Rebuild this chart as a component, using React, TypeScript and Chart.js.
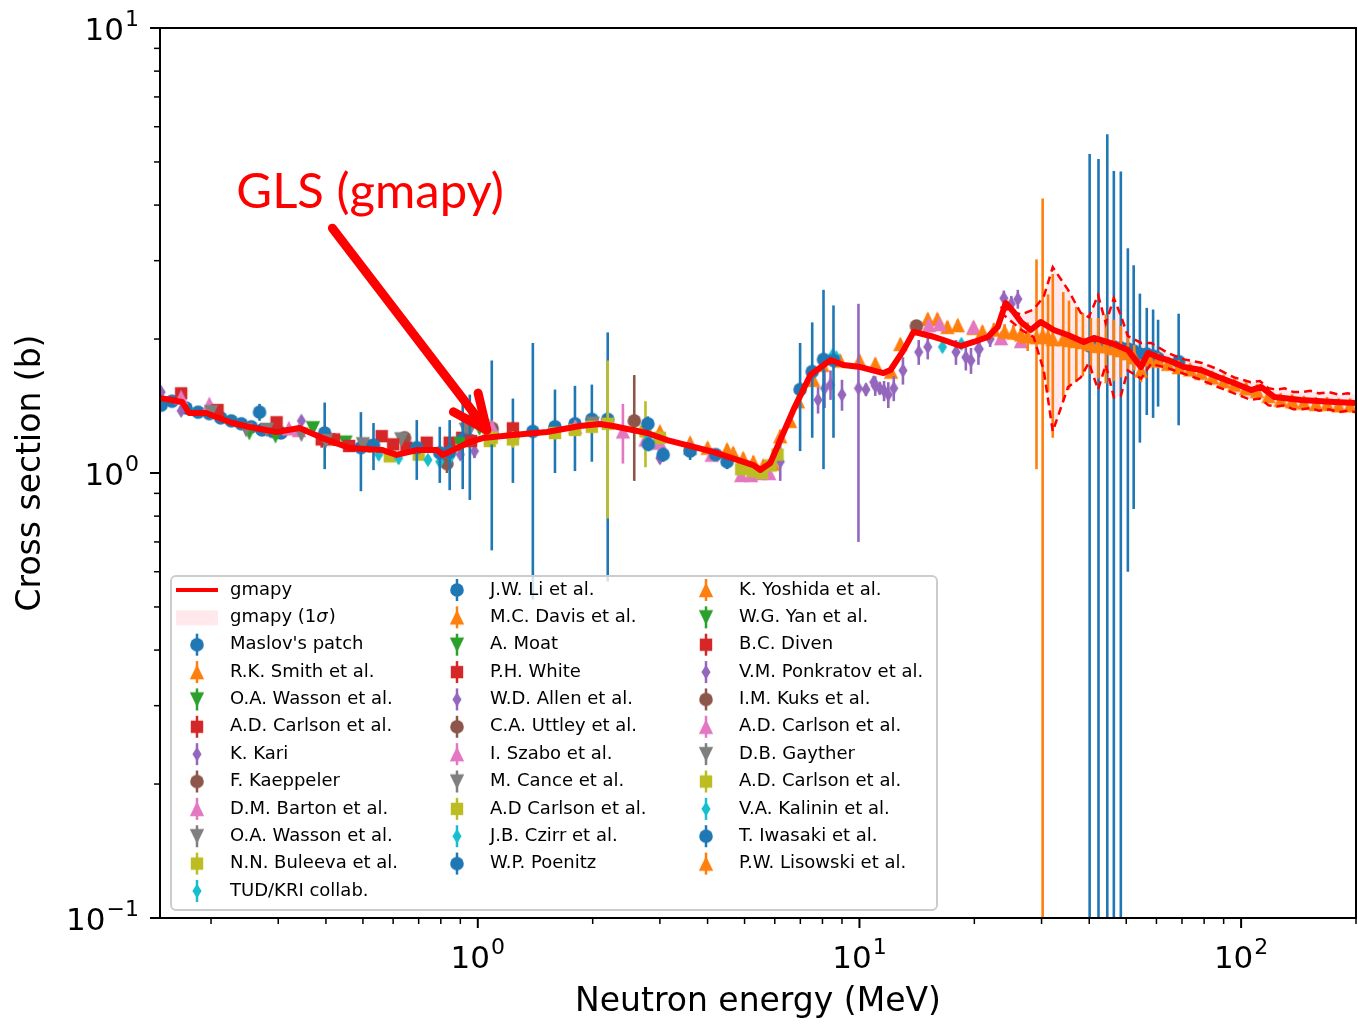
import React, { useEffect, useRef } from 'react';
import { Chart, registerables } from 'chart.js';

Chart.register(...registerables);

// ---------------- data ----------------
const gmapyEnergy = [0.147, 0.168, 0.175, 0.194, 0.2275, 0.252, 0.297, 0.341, 0.392, 0.461, 0.563, 0.613, 0.692, 0.781, 0.809, 0.953, 1.031, 1.236, 1.517, 1.852, 2.09, 2.261, 2.777, 3.134, 4.139, 5.27, 5.498, 5.84, 6.318, 6.712, 7.437, 8.392, 9.078, 10.06, 11.56, 12.06, 13.05, 13.86, 15.37, 16.61, 18.41, 19.92, 21.68, 23.03, 24.17, 25.37, 26.5, 28.11, 29.87, 32.3, 35.16, 38.71, 41.14, 45.6, 50.52, 54.65, 57.01, 60.55, 64.33, 70.86, 78.52, 87.0, 95.85, 106.2, 112.8, 122.1, 143.7, 175.4, 200];
const gmapyXS = [1.474, 1.444, 1.364, 1.364, 1.295, 1.269, 1.236, 1.262, 1.198, 1.138, 1.126, 1.098, 1.126, 1.126, 1.098, 1.174, 1.198, 1.217, 1.236, 1.275, 1.289, 1.275, 1.23, 1.186, 1.115, 1.042, 1.016, 1.053, 1.23, 1.385, 1.661, 1.794, 1.748, 1.73, 1.677, 1.704, 1.889, 2.075, 2.032, 1.99, 1.929, 1.97, 2.021, 2.129, 2.41, 2.3, 2.185, 2.096, 2.185, 2.096, 2.042, 1.97, 2.011, 1.959, 1.889, 1.73, 1.86, 1.822, 1.794, 1.73, 1.704, 1.643, 1.593, 1.536, 1.561, 1.482, 1.459, 1.444, 1.437];

const bandEnergy = [23.4, 26.5, 28.6, 30.4, 32.1, 35.2, 38.0, 39.9, 42.2, 44.2, 46.4, 48.4, 50.5, 54.7, 58.1, 64.3, 70.9, 78.5, 87.0, 95.9, 106, 112, 118, 124, 130, 137, 144, 152, 160, 170, 180, 190, 200];
const bandUpper = [2.36, 2.27, 2.33, 2.49, 2.9, 2.58, 2.29, 2.24, 2.51, 2.17, 2.47, 2.26, 2.03, 1.96, 1.96, 1.86, 1.8, 1.77, 1.71, 1.64, 1.6, 1.61, 1.55, 1.54, 1.55, 1.52, 1.52, 1.53, 1.51, 1.52, 1.5, 1.51, 1.5];
const bandLower = [2.3, 2.1, 2.02, 1.7, 1.24, 1.56, 1.64, 1.77, 1.54, 1.75, 1.48, 1.49, 1.7, 1.63, 1.76, 1.72, 1.67, 1.62, 1.56, 1.51, 1.46, 1.47, 1.42, 1.41, 1.42, 1.39, 1.39, 1.4, 1.38, 1.39, 1.37, 1.38, 1.37];

// each experiment: [energy (MeV), cross section (b), uncertainty (b)]
const maslovPatch = [[0.148, 1.42, 0.03], [0.158, 1.45, 0.03], [0.172, 1.4, 0.03], [0.185, 1.37, 0.03], [0.198, 1.36, 0.03], [0.212, 1.33, 0.03], [0.226, 1.31, 0.03], [0.24, 1.29, 0.03], [0.255, 1.27, 0.03], [0.268, 1.37, 0.06], [0.272, 1.25, 0.03], [0.29, 1.24, 0.03], [0.305, 1.23, 0.03]];
const smith = [[3.0, 1.24, 0.03], [3.6, 1.17, 0.03], [4.0, 1.14, 0.03], [4.5, 1.13, 0.03], [4.67, 1.11, 0.03], [4.96, 1.08, 0.03], [5.27, 1.06, 0.03], [5.6, 1.04, 0.03], [5.94, 1.05, 0.03], [6.2, 1.21, 0.04], [6.58, 1.31, 0.04]];
const wassonA = [[0.252, 1.23, 0.02], [0.295, 1.21, 0.02], [0.37, 1.26, 0.02], [0.45, 1.17, 0.02]];
const carlsonA = [[0.167, 1.51, 0.03], [0.297, 1.3, 0.03], [0.39, 1.19, 0.05], [0.56, 1.21, 0.03], [0.735, 1.17, 0.03], [0.91, 1.2, 0.03], [1.075, 1.24, 0.04]];
const kari = [[0.148, 1.52, 0.03], [0.167, 1.38, 0.03], [0.345, 1.31, 0.03], [0.9, 1.1, 0.03], [0.98, 1.12, 0.04], [3.0, 1.08, 0.03], [10.4, 1.54, 0.05], [10.9, 1.6, 0.05], [11.3, 1.55, 0.05]];
const kaeppeler = [[0.643, 1.2, 0.03], [0.83, 1.05, 0.05], [1.09, 1.26, 0.03]];
const barton = [[0.167, 1.48, 0.03], [0.198, 1.43, 0.03], [0.32, 1.26, 0.03], [0.34, 1.25, 0.03]];
const wassonB = [[0.247, 1.25, 0.02], [0.345, 1.22, 0.03], [0.953, 1.25, 0.03]];
const buleeva = [[0.588, 1.09, 0.03], [0.7, 1.1, 0.03], [1.075, 1.18, 0.03]];
const tudKri = [[0.74, 1.07, 0.02], [0.795, 1.06, 0.02], [0.85, 1.09, 0.02]];
const li = [[1.088, 1.23, 0.56], [1.236, 1.21, 0.26], [1.394, 1.24, 0.72], [1.593, 1.27, 0.27], [1.797, 1.29, 0.28], [1.99, 1.32, 0.26], [2.19, 1.32, 0.75]];
const davis = [[6.9, 1.45, 0.04], [7.57, 1.62, 0.04], [8.0, 1.75, 0.05], [8.9, 1.79, 0.05], [10.0, 1.79, 0.05], [11.0, 1.76, 0.05], [12.1, 1.69, 0.05]];
const moat = [[1.01, 1.26, 0.03]];
const white = [[0.208, 1.385, 0.03], [0.46, 1.15, 0.03], [0.65, 1.14, 0.02], [0.844, 1.17, 0.03], [1.236, 1.26, 0.04]];
const allen = [[20.6, 1.9, 0.08], [22.0, 2.0, 0.08], [23.9, 2.47, 0.1], [25.0, 2.4, 0.1], [26.0, 2.46, 0.12]];
const uttley = [[0.52, 1.15, 0.03], [2.57, 1.31, 0.35]];
const szabo = [[1.09, 1.27, 0.03], [1.8, 1.27, 0.04], [2.4, 1.24, 0.19], [2.75, 1.19, 0.05], [3.0, 1.17, 0.04], [3.6, 1.14, 0.03], [4.1, 1.1, 0.03]];
const cance = [[0.63, 1.19, 0.03], [0.93, 1.25, 0.03], [2.0, 1.29, 0.03]];
const carlsonB = [[1.088, 1.2, 0.04], [1.236, 1.19, 0.05], [1.593, 1.23, 0.04], [1.797, 1.25, 0.04], [1.99, 1.27, 0.04], [2.19, 1.29, 0.5], [2.75, 1.24, 0.21], [3.0, 1.2, 0.04]];
const czirr = [[0.55, 1.1, 0.03], [0.62, 1.08, 0.03], [2.8, 1.21, 0.03]];
const poenitz = [[0.397, 1.23, 0.21], [0.494, 1.14, 0.23], [0.533, 1.155, 0.14], [0.692, 1.14, 0.175], [0.795, 1.11, 0.16], [0.844, 1.115, 0.2], [0.913, 1.19, 0.27], [0.953, 1.185, 0.315], [2.79, 1.29, 0.05], [2.8, 1.16, 0.04], [3.06, 1.1, 0.04], [3.6, 1.12, 0.05], [4.2, 1.1, 0.03], [4.5, 1.06, 0.04]];
const yoshida = [[12.8, 1.95, 0.05], [14.1, 2.12, 0.06], [15.1, 2.22, 0.06], [16.0, 2.22, 0.06], [17.0, 2.13, 0.06], [18.1, 2.15, 0.06], [19.9, 2.12, 0.06]];
const yan = [[0.9, 1.16, 0.03], [1.03, 1.27, 0.03]];
const diven = [[0.42, 1.19, 0.04], [0.6, 1.16, 0.03], [0.96, 1.18, 0.03]];
const ponkratov = [[6.2, 1.06, 0.1], [7.79, 1.46, 0.1], [8.1, 1.55, 0.15], [8.4, 1.58, 0.12], [9.0, 1.5, 0.12], [9.94, 1.55, 0.85], [11.0, 1.57, 0.08], [11.6, 1.53, 0.08], [11.9, 1.5, 0.1], [12.3, 1.55, 0.1], [13.0, 1.7, 0.12], [14.3, 1.87, 0.12], [15.1, 1.92, 0.12], [17.9, 1.87, 0.12], [19.0, 1.82, 0.12], [19.6, 1.79, 0.12], [20.5, 1.9, 0.15]];
const kuks = [[14.1, 2.14, 0.05]];
const carlsonC = [[4.9, 0.99, 0.02], [5.2, 0.99, 0.02], [5.5, 1.0, 0.02], [5.8, 1.0, 0.02], [15.2, 2.15, 0.05], [16.2, 2.16, 0.05], [19.9, 2.13, 0.05], [23.5, 2.01, 0.05], [26.5, 1.98, 0.05]];
const gayther = [[0.2, 1.37, 0.03], [0.28, 1.25, 0.03], [0.4, 1.18, 0.03], [0.5, 1.16, 0.03]];
const carlsonD = [[4.9, 1.02, 0.02], [5.25, 1.01, 0.02], [5.55, 1.0, 0.02], [5.85, 1.04, 0.02], [6.1, 1.1, 0.03]];
const kalinin = [[8.5, 1.84, 0.04], [8.7, 1.82, 0.04], [16.5, 1.92, 0.05], [18.5, 1.95, 0.05]];
const iwasaki = [[6.99, 1.54, 0.42], [7.52, 1.69, 0.49], [8.05, 1.8, 0.78], [8.55, 1.79, 0.59], [40.1, 1.93, 3.28], [42.3, 1.93, 3.15], [44.6, 1.92, 3.85], [46.4, 1.92, 2.85], [48.4, 1.91, 2.85], [50.5, 1.9, 1.3], [52.3, 1.88, 1.05], [54.3, 1.85, 0.68], [56.6, 1.85, 0.5], [58.8, 1.83, 0.5], [60.6, 1.81, 0.4], [68.6, 1.78, 0.5]];
const lisowski = [[21.0, 2.08, 0.06], [22.5, 2.1, 0.07], [24.0, 2.08, 0.08], [25.3, 2.07, 0.08], [26.5, 2.05, 0.1], [27.6, 2.03, 0.15], [29.1, 2.02, 1.0], [30.2, 2.04, 2.1], [31.2, 2.02, 0.5], [32.1, 2.0, 0.8], [34.2, 2.0, 0.55], [35.4, 1.99, 0.45], [37.0, 1.98, 0.38], [38.5, 1.97, 0.32], [40.4, 1.95, 0.28], [42.2, 1.93, 0.3], [44.2, 1.93, 0.34], [46.4, 1.91, 0.3], [48.4, 1.89, 0.25], [50.5, 1.86, 0.16], [52.5, 1.82, 0.12], [54.7, 1.7, 0.1], [57.5, 1.8, 0.08], [60.6, 1.79, 0.07], [64.3, 1.76, 0.06], [68.6, 1.73, 0.06], [73.5, 1.71, 0.05], [78.5, 1.68, 0.05], [84, 1.64, 0.05], [90, 1.61, 0.05], [96, 1.58, 0.05], [103, 1.55, 0.05], [110, 1.53, 0.05], [118, 1.49, 0.05], [127, 1.46, 0.05], [136, 1.45, 0.05], [146, 1.44, 0.05], [157, 1.43, 0.05], [168, 1.43, 0.05], [180, 1.42, 0.05], [193, 1.42, 0.05]];

const experiments = [maslovPatch, smith, wassonA, carlsonA, kari, kaeppeler, barton, wassonB, buleeva, tudKri, li, davis, moat, white, allen, uttley, szabo, cance, carlsonB, czirr, poenitz, yoshida, yan, diven, ponkratov, kuks, carlsonC, gayther, carlsonD, kalinin, iwasaki, lisowski];
const expLabels = ["Maslov's patch", 'R.K. Smith et al.', 'O.A. Wasson et al.', 'A.D. Carlson et al.', 'K. Kari', 'F. Kaeppeler', 'D.M. Barton et al.', 'O.A. Wasson et al.', 'N.N. Buleeva et al.', 'TUD/KRI collab.', 'J.W. Li et al.', 'M.C. Davis et al.', 'A. Moat', 'P.H. White', 'W.D. Allen et al.', 'C.A. Uttley et al.', 'I. Szabo et al.', 'M. Cance et al.', 'A.D Carlson et al.', 'J.B. Czirr et al.', 'W.P. Poenitz', 'K. Yoshida et al.', 'W.G. Yan et al.', 'B.C. Diven', 'V.M. Ponkratov et al.', 'I.M. Kuks et al.', 'A.D. Carlson et al.', 'D.B. Gayther', 'A.D. Carlson et al.', 'V.A. Kalinin et al.', 'T. Iwasaki et al.', 'P.W. Lisowski et al.'];

// decade tick labels: base and exponent
const xMajorTicks = [1, 10, 100];
const xTickExponents = ['0', '1', '2'];
const yMajorTicks = [0.1, 1, 10];
const yTickExponents = ['\u22121', '0', '1'];
const tickBase = '10';
const xTitle = 'Neutron energy (MeV)';
const yTitle = 'Cross section (b)';
const annotationLabel = 'GLS (gmapy)';
const annotationTextAt = [0.233, 3.94];
const arrowFrom = [0.416, 3.55];
const arrowTo = [1.056, 1.249];

// ---------------- styling ----------------
const TAB10 = ['#1f77b4', '#ff7f0e', '#2ca02c', '#d62728', '#9467bd', '#8c564b', '#e377c2', '#7f7f7f', '#bcbd22', '#17becf'];
const MARKERS = ['o', '^', 'v', 's', 'd'];
const BAND_FILL = 'rgba(255,192,203,0.35)';
const FONT = 'DejaVu Sans';

function makeMarker(shape: string, color: string) {
  const c = document.createElement('canvas');
  c.width = 18; c.height = 18;
  const g = c.getContext('2d')!;
  g.fillStyle = color;
  g.beginPath();
  const cx = 9, cy = 9;
  if (shape === 'o') g.arc(cx, cy, 6.8, 0, Math.PI * 2);
  else if (shape === '^') { g.moveTo(cx, cy - 7.5); g.lineTo(cx + 7.2, cy + 7.2); g.lineTo(cx - 7.2, cy + 7.2); }
  else if (shape === 'v') { g.moveTo(cx, cy + 7.5); g.lineTo(cx + 7.2, cy - 7.2); g.lineTo(cx - 7.2, cy - 7.2); }
  else if (shape === 's') g.rect(cx - 6.2, cy - 6.2, 12.4, 12.4);
  else { g.moveTo(cx, cy - 7.2); g.lineTo(cx + 4.6, cy); g.lineTo(cx, cy + 7.2); g.lineTo(cx - 4.6, cy); }
  g.closePath();
  g.fill();
  return c;
}

function logTickList(min: number, max: number, majors: number[]) {
  const out: any[] = [];
  for (let e = -2; e <= 3; e++) {
    for (let k = 1; k <= 9; k++) {
      const v = Number((k * Math.pow(10, e)).toPrecision(4));
      if (v >= min * 0.9999 && v <= max * 1.0001) {
        out.push({ value: v, major: majors.some((m) => Math.abs(m - v) / m < 1e-6) });
      }
    }
  }
  return out;
}

function majorIndex(majors: number[], v: number) {
  return majors.findIndex((m) => Math.abs(m - v) / m < 1e-6);
}

function noPadding(s: any) {
  s.paddingTop = 0; s.paddingBottom = 0; s.paddingLeft = 0; s.paddingRight = 0;
}

const errorBarPlugin = {
  id: 'errorBars',
  beforeDatasetDraw(chart: any, args: any) {
    const ds: any = chart.data.datasets[args.index];
    if (!ds.errors) return;
    const { ctx, chartArea: a } = chart;
    const xs = chart.scales.x, ys = chart.scales.y;
    ctx.save();
    ctx.beginPath();
    ctx.rect(a.left, a.top, a.right - a.left, a.bottom - a.top);
    ctx.clip();
    ctx.strokeStyle = ds.errColor;
    ctx.lineWidth = 2.6;
    ds.data.forEach((p: any, i: number) => {
      const e = ds.errors[i];
      const px = xs.getPixelForValue(p.x);
      const top = ys.getPixelForValue(p.y + e);
      const bot = p.y - e > 0 ? ys.getPixelForValue(p.y - e) : a.bottom + 10;
      ctx.beginPath();
      ctx.moveTo(px, top);
      ctx.lineTo(px, bot);
      ctx.stroke();
    });
    ctx.restore();
  },
};

function drawPowerLabel(ctx: any, exp: string, x: number, baseY: number, align: 'center' | 'right') {
  ctx.font = `31px "${FONT}"`;
  const wb = ctx.measureText(tickBase).width;
  ctx.font = `22px "${FONT}"`;
  const we = ctx.measureText(exp).width;
  const total = wb + we + 1;
  const left = align === 'center' ? x - total / 2 : x - total;
  ctx.textAlign = 'left';
  ctx.textBaseline = 'alphabetic';
  ctx.font = `31px "${FONT}"`;
  ctx.fillText(tickBase, left, baseY);
  ctx.font = `22px "${FONT}"`;
  ctx.fillText(exp, left + wb + 1, baseY - 14);
}

const axesPlugin = {
  id: 'mplAxes',
  afterDatasetsDraw(chart: any) {
    const { ctx, chartArea: a } = chart;
    const xs = chart.scales.x, ys = chart.scales.y;
    ctx.save();
    ctx.strokeStyle = '#000';
    ctx.fillStyle = '#000';
    xs.ticks.forEach((t: any) => {
      const px = xs.getPixelForValue(t.value);
      ctx.lineWidth = t.major ? 2 : 1.5;
      ctx.beginPath();
      ctx.moveTo(px, a.bottom);
      ctx.lineTo(px, a.bottom + (t.major ? 10 : 6));
      ctx.stroke();
      const i = majorIndex(xMajorTicks, t.value);
      if (i >= 0) drawPowerLabel(ctx, xTickExponents[i], px, a.bottom + 50, 'center');
    });
    ys.ticks.forEach((t: any) => {
      const py = ys.getPixelForValue(t.value);
      ctx.lineWidth = t.major ? 2 : 1.5;
      ctx.beginPath();
      ctx.moveTo(a.left, py);
      ctx.lineTo(a.left - (t.major ? 10 : 6), py);
      ctx.stroke();
      const i = majorIndex(yMajorTicks, t.value);
      if (i >= 0) drawPowerLabel(ctx, yTickExponents[i], a.left - 21, py + 12, 'right');
    });
    ctx.lineWidth = 2;
    ctx.strokeRect(a.left, a.top, a.right - a.left, a.bottom - a.top);
    ctx.restore();
  },
};

const legendPlugin = {
  id: 'mplLegend',
  afterDraw(chart: any) {
    const { ctx, chartArea: a } = chart;
    const bl = a.left + 11, bt = a.bottom - 342, bw = 766, bh = 334;
    ctx.save();
    ctx.beginPath();
    if (ctx.roundRect) ctx.roundRect(bl, bt, bw, bh, 5); else ctx.rect(bl, bt, bw, bh);
    ctx.fillStyle = 'rgba(255,255,255,0.8)';
    ctx.fill();
    ctx.strokeStyle = '#cccccc';
    ctx.lineWidth = 2;
    ctx.stroke();

    const entries = chart.data.datasets.filter((d: any) => d.legendKind !== 'none');
    const counts = [12, 11, 11];
    const rowH = 27.36, row0 = bt + 14;
    const handleX = [26, 286, 535], textX = [59, 319, 568];
    let idx = 0;
    ctx.textBaseline = 'middle';
    ctx.textAlign = 'left';
    counts.forEach((n, col) => {
      for (let r = 0; r < n; r++) {
        const d: any = entries[idx++];
        if (!d) continue;
        const y = row0 + r * rowH;
        const hx = bl + handleX[col];
        if (d.legendKind === 'line') {
          ctx.strokeStyle = '#ff0000'; ctx.lineWidth = 4;
          ctx.beginPath(); ctx.moveTo(hx - 21, y); ctx.lineTo(hx + 21, y); ctx.stroke();
        } else if (d.legendKind === 'band') {
          ctx.fillStyle = BAND_FILL;
          ctx.fillRect(hx - 21, y - 7, 42, 15);
        } else {
          ctx.strokeStyle = d.errColor; ctx.lineWidth = 2.5;
          ctx.beginPath(); ctx.moveTo(hx, y - 11); ctx.lineTo(hx, y + 11); ctx.stroke();
          ctx.drawImage(d.markerImg, hx - 9, y - 9);
        }
        ctx.fillStyle = '#000';
        const tx = bl + textX[col];
        ctx.font = `18px "${FONT}"`;
        if (d.legendKind === 'band') {
          const p1 = 'gmapy (1';
          ctx.fillText(p1, tx, y);
          let w = ctx.measureText(p1).width;
          ctx.font = `italic 18px "${FONT}"`;
          ctx.fillText('\u03C3', tx + w, y);
          w += ctx.measureText('\u03C3').width;
          ctx.font = `18px "${FONT}"`;
          ctx.fillText(')', tx + w + 1, y);
        } else {
          ctx.fillText(d.label, tx, y);
        }
      }
    });
    ctx.restore();
  },
};

const annotationPlugin = {
  id: 'glsAnnotation',
  afterDraw(chart: any) {
    const { ctx } = chart;
    const xs = chart.scales.x, ys = chart.scales.y;
    ctx.save();
    ctx.fillStyle = '#ff0000';
    ctx.font = '49px Lato';
    ctx.textAlign = 'left';
    ctx.textBaseline = 'alphabetic';
    ctx.fillText(annotationLabel, xs.getPixelForValue(annotationTextAt[0]), ys.getPixelForValue(annotationTextAt[1]));
    const x1 = xs.getPixelForValue(arrowFrom[0]), y1 = ys.getPixelForValue(arrowFrom[1]);
    const x2 = xs.getPixelForValue(arrowTo[0]), y2 = ys.getPixelForValue(arrowTo[1]);
    const ang = Math.atan2(y2 - y1, x2 - x1);
    ctx.strokeStyle = '#ff0000';
    ctx.lineWidth = 9;
    ctx.lineCap = 'round';
    ctx.lineJoin = 'round';
    ctx.beginPath(); ctx.moveTo(x1, y1); ctx.lineTo(x2, y2); ctx.stroke();
    const wl = 38, wa = 0.42;
    ctx.beginPath();
    ctx.moveTo(x2 - wl * Math.cos(ang - wa), y2 - wl * Math.sin(ang - wa));
    ctx.lineTo(x2, y2);
    ctx.lineTo(x2 - wl * Math.cos(ang + wa), y2 - wl * Math.sin(ang + wa));
    ctx.stroke();
    ctx.restore();
  },
};

export default function App() {
  const ref = useRef<HTMLCanvasElement>(null);
  useEffect(() => {
    document.body.style.margin = '0';
    const X_MIN = 0.147, X_MAX = 200, Y_MIN = 0.1, Y_MAX = 10;
    const expSets = experiments.map((pts, i) => {
      const color = TAB10[i % 10];
      const shape = MARKERS[i % 5];
      const img = makeMarker(shape, color);
      return {
        label: expLabels[i],
        data: pts.map((p) => ({ x: p[0], y: p[1] })),
        errors: pts.map((p) => p[2]),
        errColor: color,
        markerImg: img,
        legendKind: 'marker',
        showLine: false,
        pointStyle: img,
        pointRadius: 7,
        backgroundColor: color,
        borderColor: color,
        order: 100 - i,
      };
    });
    const datasets: any[] = [
      {
        label: 'gmapy', legendKind: 'line',
        data: gmapyEnergy.map((e, i) => ({ x: e, y: gmapyXS[i] })),
        borderColor: '#ff0000', borderWidth: 6, pointRadius: 0, fill: false, tension: 0, order: 0,
        borderJoinStyle: 'round',
      },
      {
        label: 'gmapy (1\u03C3)', legendKind: 'band',
        data: bandEnergy.map((e, i) => ({ x: e, y: bandUpper[i] })),
        borderColor: '#ff0000', borderWidth: 2.5, borderDash: [8, 5], pointRadius: 0, fill: false, order: 1,
      },
      {
        label: 'gmapy lower', legendKind: 'none',
        data: bandEnergy.map((e, i) => ({ x: e, y: bandLower[i] })),
        borderColor: '#ff0000', borderWidth: 2.5, borderDash: [8, 5], pointRadius: 0,
        fill: '-1', backgroundColor: BAND_FILL, order: 1,
      },
      ...expSets,
    ];
    Chart.defaults.font.family = FONT;
    Chart.defaults.color = '#000';
    const chart = new Chart(ref.current!, {
      type: 'line',
      data: { datasets },
      options: {
        responsive: false,
        animation: false,
        devicePixelRatio: 1,
        events: [],
        layout: { autoPadding: false, padding: { top: 28, right: 2, left: 0, bottom: 0 } },
        plugins: {
          legend: { display: false },
          tooltip: { enabled: false },
          filler: { propagate: false, drawTime: 'beforeDatasetsDraw' },
        },
        scales: {
          x: {
            type: 'logarithmic', min: X_MIN, max: X_MAX, bounds: 'data',
            grid: { display: false, drawTicks: false },
            border: { display: false },
            afterBuildTicks: (s: any) => { s.ticks = logTickList(X_MIN, X_MAX, xMajorTicks); },
            ticks: { display: false, autoSkip: false },
            title: { display: true, text: xTitle, color: '#000', font: { family: FONT, size: 33 }, padding: { top: 0, bottom: 2 } },
            afterFit: (s: any) => { s.height = 106; noPadding(s); },
          },
          y: {
            type: 'logarithmic', min: Y_MIN, max: Y_MAX, bounds: 'data',
            grid: { display: false, drawTicks: false },
            border: { display: false },
            afterBuildTicks: (s: any) => { s.ticks = logTickList(Y_MIN, Y_MAX, yMajorTicks); },
            ticks: { display: false, autoSkip: false },
            title: { display: true, text: yTitle, color: '#000', font: { family: FONT, size: 33 }, padding: { top: 12, bottom: 0 } },
            afterFit: (s: any) => { s.width = 160; noPadding(s); },
          },
        },
      } as any,
      plugins: [errorBarPlugin, axesPlugin, legendPlugin, annotationPlugin],
    });
    return () => chart.destroy();
  }, []);
  return (
    <div style={{ width: 1358, height: 1024, background: '#fff', overflow: 'hidden' }}>
      <canvas ref={ref} width={1358} height={1024} style={{ display: 'block' }} />
    </div>
  );
}
